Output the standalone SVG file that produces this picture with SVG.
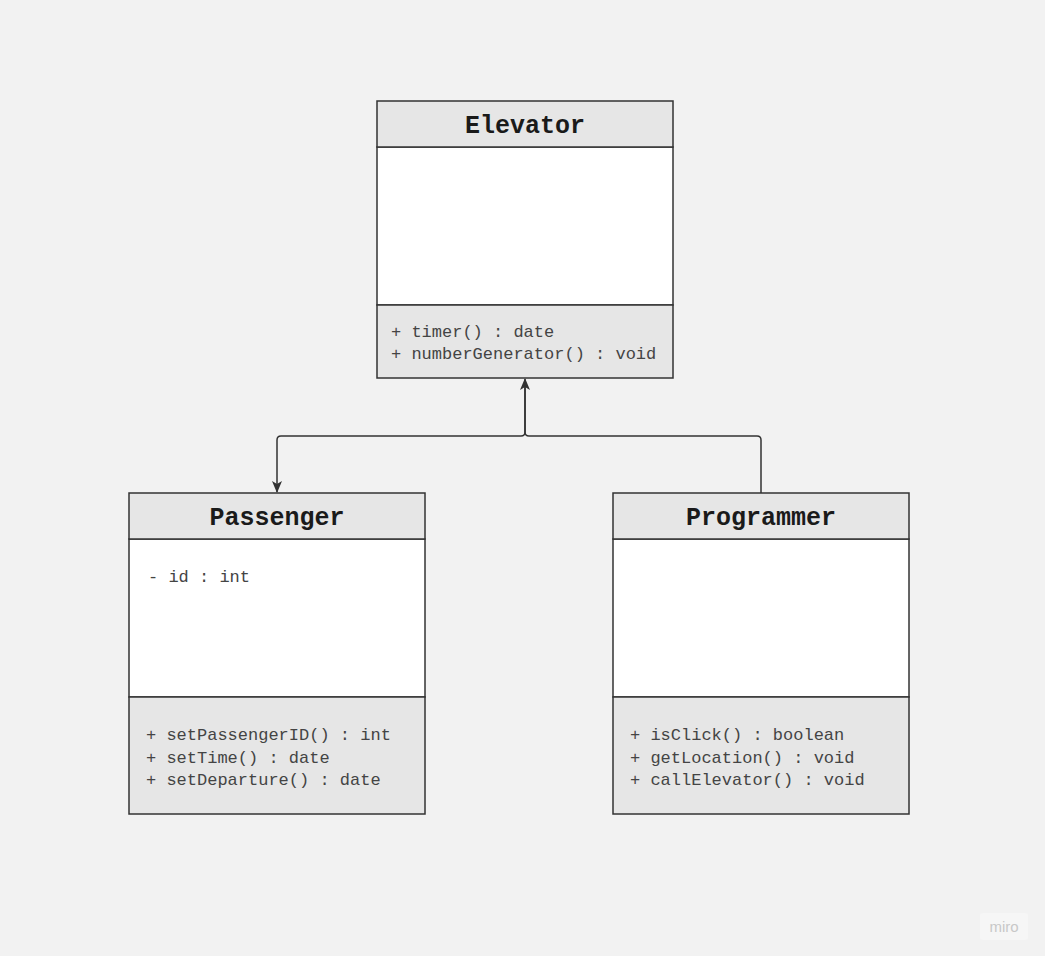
<svg xmlns="http://www.w3.org/2000/svg" width="1045" height="956" viewBox="0 0 1045 956">
<defs>
<style>
.hdr{fill:#e6e6e6;stroke:#333;stroke-width:1.5}
.body{fill:#ffffff;stroke:#333;stroke-width:1.5}
.meth{fill:#e6e6e6;stroke:#333;stroke-width:1.5}
.title{font-family:"Liberation Mono","DejaVu Sans Mono",monospace;font-weight:bold;font-size:25px;fill:#1a1a1a;text-anchor:middle}
.txt{font-family:"Liberation Mono","DejaVu Sans Mono",monospace;font-size:17px;fill:#444}
.conn{fill:none;stroke:#333;stroke-width:1.5}
</style>
<marker id="arr" viewBox="0 0 12 10" refX="11" refY="5" markerWidth="12" markerHeight="10" markerUnits="userSpaceOnUse" orient="auto">
<path d="M0,0 L12,5 L0,10 L3,5 Z" fill="#333"/>
</marker>
</defs>
<rect x="0" y="0" width="1045" height="956" fill="#f2f2f2"/>

<g id="connectors">
<path class="conn" d="M761,493 L761,440 Q761,436 757,436 L529,436 Q525,436 525,432 L525,379" marker-end="url(#arr)"/>
<path class="conn" d="M525,380 L525,432 Q525,436 521,436 L281,436 Q277,436 277,440 L277,492" marker-end="url(#arr)"/>
</g>

<g id="elevator">
<rect class="body" x="377" y="147" width="296" height="158"/>
<rect class="meth" x="377" y="305" width="296" height="73"/>
<rect class="hdr" x="377" y="101" width="296" height="46"/>
<text class="title" x="525" y="133">Elevator</text>
<text class="txt" x="391" y="337">+ timer() : date</text>
<text class="txt" x="391" y="359">+ numberGenerator() : void</text>
</g>

<g id="passenger">
<rect class="body" x="129" y="539" width="296" height="158"/>
<rect class="meth" x="129" y="697" width="296" height="117"/>
<rect class="hdr" x="129" y="493" width="296" height="46"/>
<text class="title" x="277" y="525">Passenger</text>
<text class="txt" x="148" y="582">- id : int</text>
<text class="txt" x="146" y="740">+ setPassengerID() : int</text>
<text class="txt" x="146" y="763">+ setTime() : date</text>
<text class="txt" x="146" y="785">+ setDeparture() : date</text>
</g>

<g id="programmer">
<rect class="body" x="613" y="539" width="296" height="158"/>
<rect class="meth" x="613" y="697" width="296" height="117"/>
<rect class="hdr" x="613" y="493" width="296" height="46"/>
<text class="title" x="761" y="525">Programmer</text>
<text class="txt" x="630" y="740">+ isClick() : boolean</text>
<text class="txt" x="630" y="763">+ getLocation() : void</text>
<text class="txt" x="630" y="785">+ callElevator() : void</text>
</g>

<g id="watermark">
<rect x="980" y="913" width="48" height="27" rx="3" fill="#f6f6f6"/>
<text x="1004" y="932" font-family="Liberation Sans, Arial, sans-serif" font-size="15" fill="#c8c8c8" text-anchor="middle">miro</text>
</g>
</svg>
